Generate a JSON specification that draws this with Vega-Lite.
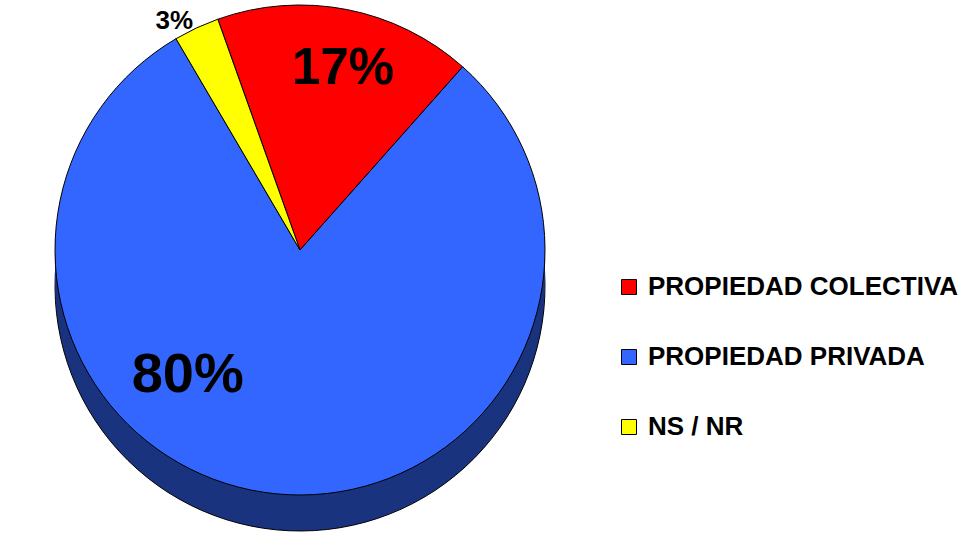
{
  "$schema": "https://vega.github.io/schema/vega-lite/v6.json",
  "width": 600,
  "height": 500,
  "autosize": {"type": "none"},
  "padding": {"left": 0, "top": 0, "right": 363, "bottom": 34},
  "background": "white",
  "config": {"view": {"stroke": null}, "font": "Liberation Sans"},
  "data": {
    "values": [
      {"cat": "PROPIEDAD COLECTIVA", "pct": 17, "orden": 1, "label": "17%"},
      {"cat": "PROPIEDAD PRIVADA", "pct": 80, "orden": 2, "label": "80%"},
      {"cat": "NS / NR", "pct": 3, "orden": 3, "label": "3%"}
    ]
  },
  "encoding": {
    "theta": {"field": "pct", "type": "quantitative", "stack": true, "scale": {"range": [-0.342, 5.941]}},
    "order": {"field": "orden", "type": "quantitative"}
  },
  "layer": [
    {"mark": {"type": "arc", "radius": 245, "yOffset": 36, "fill": "#1a337f", "stroke": "black", "strokeWidth": 1}},
    {"mark": {"type": "arc", "radius": 245, "yOffset": 30, "fill": "#1a337f"}},
    {"mark": {"type": "arc", "radius": 245, "yOffset": 24, "fill": "#1a337f"}},
    {"mark": {"type": "arc", "radius": 245, "yOffset": 18, "fill": "#1a337f"}},
    {"mark": {"type": "arc", "radius": 245, "yOffset": 12, "fill": "#1a337f"}},
    {"mark": {"type": "arc", "radius": 245, "yOffset": 6, "fill": "#1a337f"}},
    {
      "mark": {"type": "arc", "radius": 245, "stroke": "black", "strokeWidth": 1},
      "encoding": {
        "color": {
          "field": "cat", "type": "nominal",
          "scale": {"domain": ["PROPIEDAD COLECTIVA", "PROPIEDAD PRIVADA", "NS / NR"], "range": ["#ff0000", "#3366ff", "#ffff00"]},
          "legend": {
            "orient": "none", "legendX": 616, "legendY": 274, "title": null,
            "symbolType": "square", "symbolSize": 225, "symbolStrokeColor": "black", "symbolStrokeWidth": 1,
            "labelFont": "Liberation Sans", "labelFontWeight": "bold", "labelFontSize": 26, "labelColor": "black",
            "labelLimit": 400, "labelOffset": 6, "rowPadding": 44
          }
        }
      }
    },
    {
      "mark": {"type": "text", "radius": 184, "fontSize": 51, "fontWeight": "bold", "color": "black", "dx": 8},
      "encoding": {"text": {"condition": {"test": "datum.cat === 'PROPIEDAD COLECTIVA'", "field": "label"}, "value": ""}}
    },
    {
      "mark": {"type": "text", "radius": 126, "fontSize": 56, "fontWeight": "bold", "color": "black", "dx": -100},
      "encoding": {"text": {"condition": {"test": "datum.cat === 'PROPIEDAD PRIVADA'", "field": "label"}, "value": ""}}
    },
    {
      "mark": {"type": "text", "radius": 250, "fontSize": 26, "fontWeight": "bold", "color": "black", "dx": -20, "dy": -2},
      "encoding": {"text": {"condition": {"test": "datum.cat === 'NS / NR'", "field": "label"}, "value": ""}}
    }
  ]
}
